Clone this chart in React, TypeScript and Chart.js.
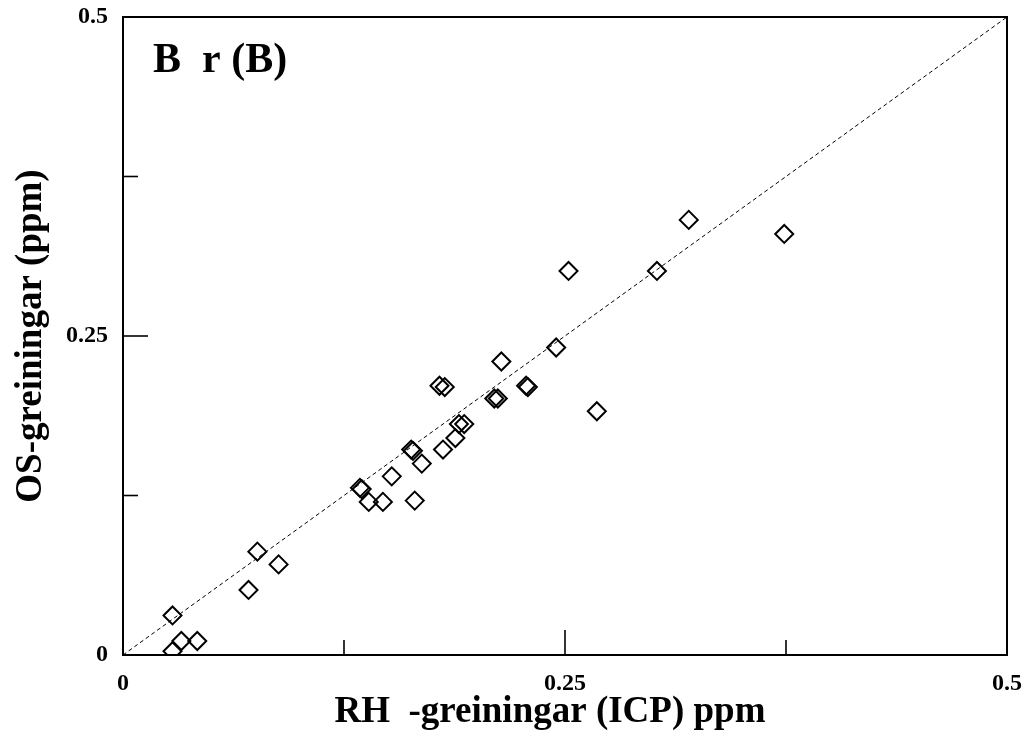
import React, { useEffect, useRef } from "react";
import { Chart, registerables } from "chart.js";

Chart.register(...registerables);

// Data: RH (ICP) ppm vs OS ppm for Boron
const xValues = [
  0.028, 0.028, 0.033, 0.042, 0.071, 0.076, 0.088, 0.134, 0.135, 0.139, 0.147,
  0.152, 0.165, 0.163, 0.164, 0.169, 0.181, 0.188, 0.19, 0.193, 0.179, 0.182,
  0.21, 0.212, 0.214, 0.228, 0.229, 0.245, 0.252, 0.268, 0.302, 0.32, 0.374,
];
const yValues = [
  0.031, 0.003, 0.011, 0.011, 0.051, 0.081, 0.071, 0.131, 0.13, 0.12, 0.12,
  0.14, 0.121, 0.161, 0.16, 0.15, 0.161, 0.17, 0.181, 0.181, 0.211, 0.21,
  0.201, 0.201, 0.23, 0.211, 0.21, 0.241, 0.301, 0.191, 0.301, 0.341, 0.33,
];
const axisMin = 0;
const axisMax = 0.5;
const tickStep = 0.125;
const labelledTicks = [0, 0.25, 0.5];
const tickLabels = ["0", "0.25", "0.5"];
const identityLine = [
  { x: 0, y: 0 },
  { x: 0.5, y: 0.5 },
];

const panelTitle = "B  r (B)";
const xTitle = "RH  -greiningar (ICP) ppm";
const yTitle = "OS-greiningar (ppm)";

const FONT = '"Liberation Serif", "Times New Roman", serif';

function labelFor(v: number): string {
  for (let i = 0; i < labelledTicks.length; i++) {
    if (Math.abs(v - labelledTicks[i]) < 1e-9) return tickLabels[i];
  }
  return "";
}

function zeroPadding(scale: any) {
  scale.paddingTop = 0;
  scale.paddingBottom = 0;
  scale.paddingLeft = 0;
  scale.paddingRight = 0;
}

const framePlugin = {
  id: "framePlugin",
  afterDraw(chart: any) {
    const { ctx, chartArea } = chart;
    const xs = chart.scales.x;
    const ys = chart.scales.y;
    const { left, right, top, bottom } = chartArea;
    ctx.save();
    ctx.strokeStyle = "#000";
    ctx.lineWidth = 2;
    ctx.strokeRect(left, top, right - left, bottom - top);

    ctx.lineWidth = 1.6;
    for (let v = axisMin; v <= axisMax + 1e-9; v += tickStep) {
      const major = labelFor(v) !== "";
      const len = major ? 25 : 15;
      const px = xs.getPixelForValue(v);
      ctx.beginPath();
      ctx.moveTo(px, bottom);
      ctx.lineTo(px, bottom - len);
      ctx.stroke();
      const py = ys.getPixelForValue(v);
      ctx.beginPath();
      ctx.moveTo(left, py);
      ctx.lineTo(left + len, py);
      ctx.stroke();
    }

    ctx.fillStyle = "#000";
    // panel title
    ctx.font = `bold 42px ${FONT}`;
    ctx.textAlign = "left";
    ctx.textBaseline = "alphabetic";
    ctx.fillText(panelTitle, 153, 72);

    // x title
    ctx.font = `bold 37px ${FONT}`;
    ctx.textAlign = "center";
    ctx.fillText(xTitle, 550, 722);

    // y title
    ctx.translate(41, 336);
    ctx.rotate(-Math.PI / 2);
    ctx.fillText(yTitle, 0, 0);
    ctx.restore();
  },
};

export default function App() {
  const ref = useRef<HTMLCanvasElement | null>(null);

  useEffect(() => {
    document.body.style.margin = "0";
    if (!ref.current) return;
    const points = xValues.map((x, i) => ({ x, y: yValues[i] }));
    const tickFont = { family: FONT, size: 24, weight: "bold" as const };
    const chart = new Chart(ref.current, {
      type: "scatter",
      data: {
        datasets: [
          {
            type: "line",
            data: identityLine,
            borderColor: "#000",
            borderWidth: 1,
            borderDash: [4, 3],
            pointRadius: 0,
            fill: false,
            order: 2,
          } as any,
          {
            type: "scatter",
            data: points,
            pointStyle: "rectRot",
            pointRadius: 9,
            pointHoverRadius: 9,
            borderColor: "#000",
            backgroundColor: "rgba(0,0,0,0)",
            borderWidth: 2,
            order: 1,
          },
        ],
      },
      options: {
        animation: false,
        responsive: true,
        maintainAspectRatio: false,
        layout: { padding: { left: 0, top: 17, right: 24, bottom: 0 } },
        plugins: {
          legend: { display: false },
          tooltip: { enabled: false },
          title: { display: false },
        },
        scales: {
          x: {
            type: "linear",
            min: axisMin,
            max: axisMax,
            afterFit(scale: any) {
              scale.height = 89;
              zeroPadding(scale);
            },
            afterBuildTicks(scale: any) {
              const t = [];
              for (let v = axisMin; v <= axisMax + 1e-9; v += tickStep) t.push({ value: v });
              scale.ticks = t;
            },
            ticks: {
              callback: (v: any) => labelFor(Number(v)),
              font: tickFont,
              color: "#000",
              padding: 14,
              maxRotation: 0,
              autoSkip: false,
            },
            grid: { display: false, drawTicks: false },
            border: { display: false },
          },
          y: {
            type: "linear",
            min: axisMin,
            max: axisMax,
            afterFit(scale: any) {
              scale.width = 123;
              zeroPadding(scale);
            },
            afterBuildTicks(scale: any) {
              const t = [];
              for (let v = axisMin; v <= axisMax + 1e-9; v += tickStep) t.push({ value: v });
              scale.ticks = t;
            },
            ticks: {
              callback: (v: any) => labelFor(Number(v)),
              font: tickFont,
              color: "#000",
              padding: 15,
              autoSkip: false,
            },
            grid: { display: false, drawTicks: false },
            border: { display: false },
          },
        },
      },
      plugins: [framePlugin],
    });
    return () => chart.destroy();
  }, []);

  return (
    <div style={{ position: "absolute", left: 0, top: 0, width: 1031, height: 744, background: "#fff" }}>
      <canvas ref={ref} />
    </div>
  );
}
